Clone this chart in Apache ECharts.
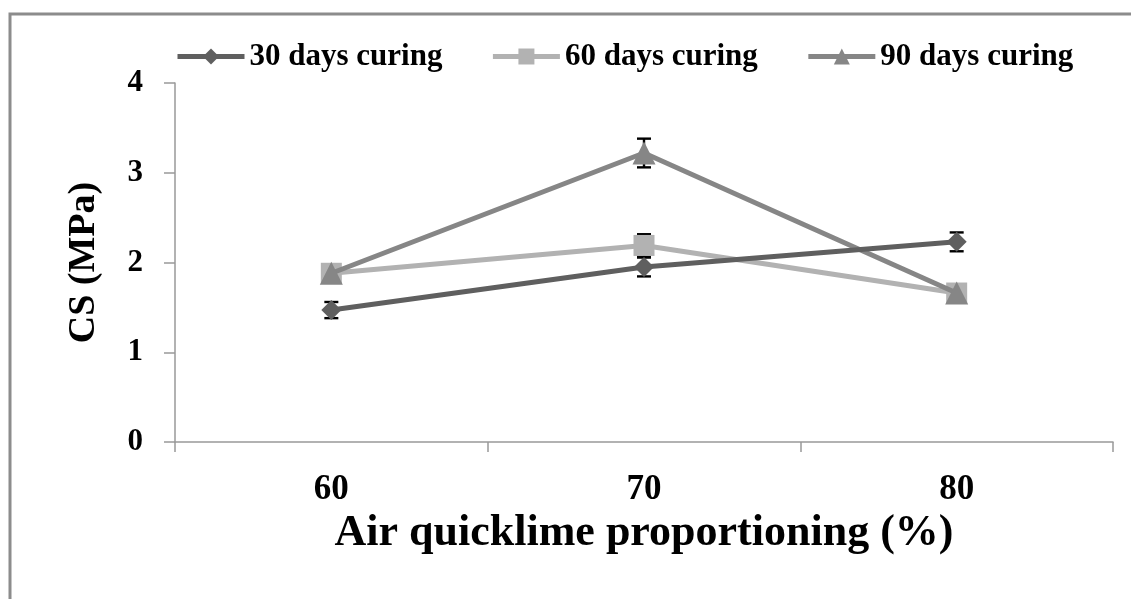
<!DOCTYPE html>
<html>
<head>
<meta charset="utf-8">
<script src="https://cdn.jsdelivr.net/npm/echarts@6/dist/echarts.min.js"></script>
<style>
html,body{margin:0;padding:0;background:#fff;}
#c{width:1133px;height:599px;}
</style>
</head>
<body>
<div id="c"></div>
<script>
const categories = ['60', '70', '80'];
const seriesNames = ['30 days curing', '60 days curing', '90 days curing'];
const cs30 = [1.47, 1.95, 2.23];
const cs60 = [1.88, 2.19, 1.66];
const cs90 = [1.88, 3.22, 1.66];
const err30 = [0.09, 0.105, 0.105];
const err60 = [0.06, 0.125, 0.06];
const err90 = [0.06, 0.16, 0.06];
const yTicks = [0, 1, 2, 3, 4];

const FONT = '"Liberation Serif", "Times New Roman", serif';

function errData(vals, errs) {
  return vals.map((v, i) => [i, v - errs[i], v + errs[i]]);
}
function errRender(params, api) {
  const lo = api.coord([api.value(0), api.value(1)]);
  const hi = api.coord([api.value(0), api.value(2)]);
  const w = 7;
  const st = { stroke: '#000', lineWidth: 2.4 };
  return {
    type: 'group',
    children: [
      { type: 'line', shape: { x1: lo[0], y1: lo[1], x2: hi[0], y2: hi[1] }, style: st },
      { type: 'line', shape: { x1: lo[0] - w, y1: lo[1], x2: lo[0] + w, y2: lo[1] }, style: st },
      { type: 'line', shape: { x1: hi[0] - w, y1: hi[1], x2: hi[0] + w, y2: hi[1] }, style: st }
    ]
  };
}

const colors = ['#5f5f5f', '#b2b2b2', '#868686'];
const symbols = ['diamond', 'rect', 'triangle'];
const symSizes = [20, 21, 23];
const values = [cs30, cs60, cs90];
const errs = [err30, err60, err90];

const series = [];
values.forEach((vals, k) => {
  series.push({
    name: 'err' + k,
    type: 'custom',
    renderItem: errRender,
    data: errData(vals, errs[k]),
    encode: { x: 0, y: [1, 2] },
    z: 1,
    silent: true
  });
});
values.forEach((vals, k) => {
  series.push({
    name: seriesNames[k],
    type: 'line',
    data: vals,
    symbol: symbols[k],
    symbolSize: symSizes[k],
    showAllSymbol: true,
    lineStyle: { color: colors[k], width: 5 },
    itemStyle: { color: colors[k] },
    z: 3 + (k === 0 ? 2 : k === 2 ? 1 : 0)
  });
});

const chart = echarts.init(document.getElementById('c'), null, { renderer: 'canvas' });
chart.setOption({
  animation: false,
  backgroundColor: '#ffffff',
  graphic: [{
    type: 'polyline',
    shape: { points: [[10, 600], [10, 14], [1131, 14]] },
    style: { stroke: '#8c8c8c', lineWidth: 3, fill: null },
    z: 100
  }],
  legend: {
    data: seriesNames,
    left: 170,
    top: 36,
    itemWidth: 67,
    itemHeight: 20,
    itemGap: 48,
    lineStyle: { width: 5 },
    textStyle: { fontFamily: FONT, fontWeight: 'bold', fontSize: 31, color: '#000' }
  },
  grid: { left: 175, right: 20, top: 83, bottom: 157, containLabel: false },
  xAxis: {
    type: 'category',
    data: categories,
    boundaryGap: true,
    name: 'Air quicklime proportioning (%)',
    nameLocation: 'middle',
    nameGap: 70,
    nameTextStyle: { fontFamily: FONT, fontWeight: 'bold', fontSize: 44, color: '#000' },
    axisLine: { lineStyle: { color: '#999', width: 1.5 } },
    axisTick: { show: true, length: 10, lineStyle: { color: '#999', width: 1.5 } },
    axisLabel: { margin: 30, fontFamily: FONT, fontWeight: 'bold', fontSize: 35, color: '#000' },
    splitLine: { show: false }
  },
  yAxis: {
    type: 'value',
    min: yTicks[0],
    max: yTicks[yTicks.length - 1],
    interval: 1,
    name: 'CS (MPa)',
    nameLocation: 'middle',
    nameGap: 72,
    nameRotate: 90,
    nameTextStyle: { fontFamily: FONT, fontWeight: 'bold', fontSize: 38, color: '#000' },
    axisLine: { show: true, lineStyle: { color: '#999', width: 1.5 } },
    axisTick: { show: true, length: 11, lineStyle: { color: '#999', width: 1.5 } },
    axisLabel: { margin: 32, fontFamily: FONT, fontWeight: 'bold', fontSize: 31, color: '#000' },
    splitLine: { show: false }
  },
  series: series
});
</script>
</body>
</html>
